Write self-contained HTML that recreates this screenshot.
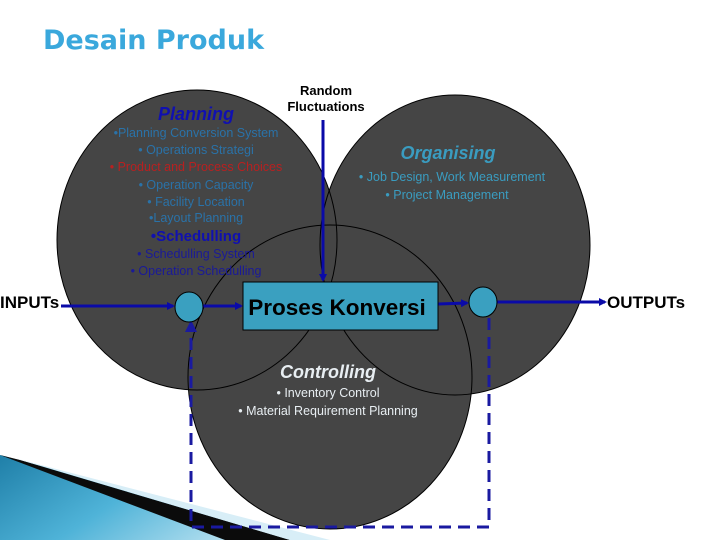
<!DOCTYPE html>
<html><head><meta charset="utf-8"><style>
html,body{margin:0;padding:0;background:#fff;}
svg{display:block;}
text{font-family:"Liberation Sans",Arial,sans-serif;}
</style></head><body>
<svg width="720" height="540" viewBox="0 0 720 540" xmlns="http://www.w3.org/2000/svg">
<defs>
<linearGradient id="g1" x1="0" y1="0" x2="1" y2="0.4">
<stop offset="0" stop-color="#1f7fa8"/><stop offset="0.5" stop-color="#4fb3d8"/><stop offset="1" stop-color="#bfe4f2"/>
</linearGradient>
<marker id="ah" markerWidth="8" markerHeight="8" refX="6" refY="4" orient="auto" markerUnits="userSpaceOnUse"><path d="M0,0 L8,4 L0,8 z" fill="#0a0aa8"/></marker>
</defs>
<rect width="720" height="540" fill="#fff"/>
<polygon points="0,455 320,540 0,540" fill="url(#g1)"/>
<polygon points="0,455 20,460 290,540 225,540" fill="#0b0b0b"/>
<polygon points="14,458 330,540 290,540" fill="#d8eef7"/>
<text x="43" y="49" font-weight="bold" font-size="27" fill="#3aa8dc" style="font-family:'DejaVu Sans',sans-serif">Desain Produk</text>
<ellipse cx="455" cy="245" rx="135" ry="150" fill="#454545"/>
<ellipse cx="197" cy="240" rx="140" ry="150" fill="#454545"/>
<ellipse cx="330" cy="377" rx="142" ry="152" fill="#454545"/>
<ellipse cx="455" cy="245" rx="135" ry="150" fill="none" stroke="#000" stroke-width="1"/>
<ellipse cx="197" cy="240" rx="140" ry="150" fill="none" stroke="#000" stroke-width="1"/>
<ellipse cx="330" cy="377" rx="142" ry="152" fill="none" stroke="#000" stroke-width="1"/>
<g text-anchor="middle" font-size="12.5">
<text x="196" y="120" font-size="18" font-weight="bold" font-style="italic" fill="#1010b0">Planning</text>
<text x="196" y="137" fill="#2a72a8">•Planning Conversion System</text>
<text x="196" y="154" fill="#2a72a8">• Operations Strategi</text>
<text x="196" y="171" fill="#b82020">• Product and Process Choices</text>
<text x="196" y="189" fill="#2a72a8">• Operation Capacity</text>
<text x="196" y="206" fill="#2a72a8">• Facility Location</text>
<text x="196" y="222" fill="#2a72a8">•Layout Planning</text>
<text x="196" y="241" font-size="15" font-weight="bold" fill="#1010b0">•Schedulling</text>
<text x="196" y="258" fill="#1a1a98">• Schedulling System</text>
<text x="196" y="275" fill="#1a1a98">• Operation Schedulling</text>
<text x="326" y="95" font-size="13" font-weight="bold" fill="#000">Random</text>
<text x="326" y="111" font-size="13" font-weight="bold" fill="#000">Fluctuations</text>
<text x="448" y="159" font-size="18" font-weight="bold" font-style="italic" fill="#3a9cc0">Organising</text>
<text x="452" y="181" fill="#3a9cc0">• Job Design, Work Measurement</text>
<text x="447" y="199" fill="#3a9cc0">• Project Management</text>
<text x="328" y="378" font-size="18" font-weight="bold" font-style="italic" fill="#e8eef2">Controlling</text>
<text x="328" y="397" fill="#e8eef2">• Inventory Control</text>
<text x="328" y="415" fill="#e8eef2">• Material Requirement Planning</text>
</g>
<line x1="323" y1="120" x2="323" y2="280" stroke="#0a0aa8" stroke-width="3" marker-end="url(#ah)"/>
<line x1="61" y1="306" x2="173" y2="306" stroke="#0a0aa8" stroke-width="3" marker-end="url(#ah)"/>
<line x1="203" y1="306" x2="241" y2="306" stroke="#0a0aa8" stroke-width="3" marker-end="url(#ah)"/>
<line x1="438" y1="304" x2="467" y2="303" stroke="#0a0aa8" stroke-width="3" marker-end="url(#ah)"/>
<line x1="497" y1="302" x2="605" y2="302" stroke="#0a0aa8" stroke-width="3" marker-end="url(#ah)"/>
<polyline points="489,318 489,527 191,527 191,332" fill="none" stroke="#1a1aa0" stroke-width="3" stroke-dasharray="12,7"/>
<path d="M185,332 L191,320 L197,332 z" fill="#1a1aa0"/>
<ellipse cx="189" cy="307" rx="14" ry="15" fill="#3aa0c0" stroke="#000" stroke-width="1"/>
<ellipse cx="483" cy="302" rx="14" ry="15" fill="#3aa0c0" stroke="#000" stroke-width="1"/>
<rect x="243" y="282" width="195" height="48" fill="#3aa0c0" stroke="#000" stroke-width="1"/>
<text x="337" y="315" text-anchor="middle" font-size="22.5" font-weight="bold" fill="#000">Proses Konversi</text>
<text x="0" y="308" font-size="17" font-weight="bold" fill="#000">INPUTs</text>
<text x="607" y="308" font-size="17" font-weight="bold" fill="#000">OUTPUTs</text>
</svg>
</body></html>
